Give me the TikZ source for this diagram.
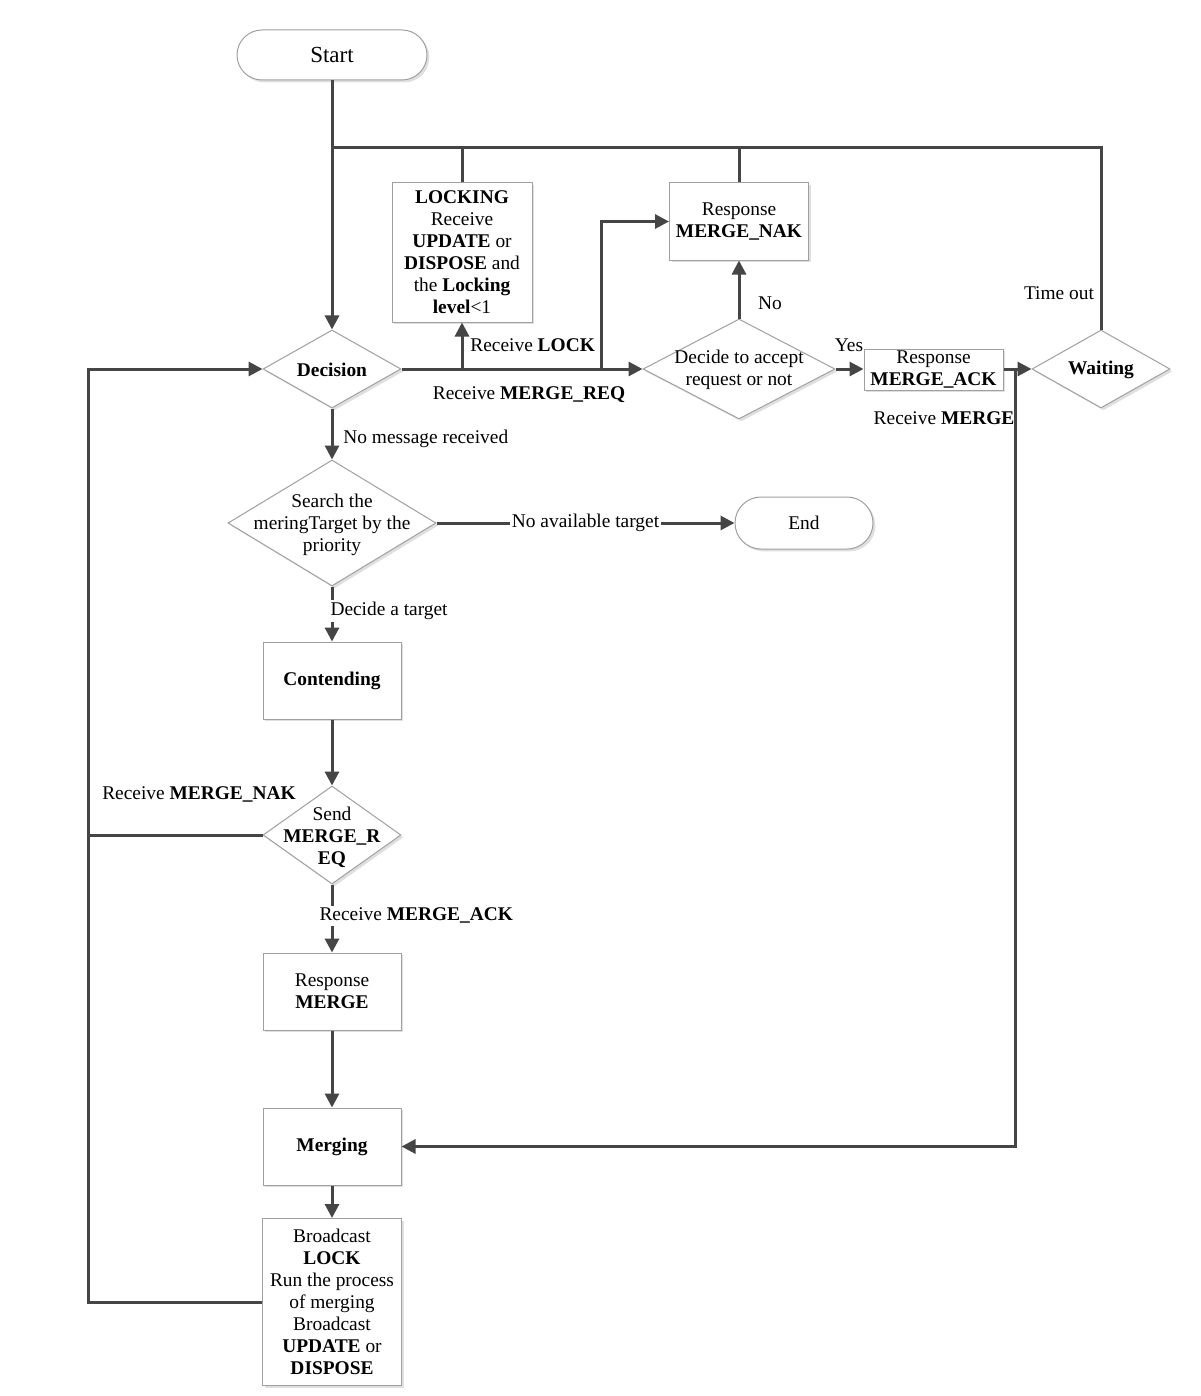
\documentclass[tikz,border=0pt]{standalone}
\usepackage{fontspec}
\setmainfont{Liberation Serif}
\usetikzlibrary{arrows.meta,shapes.geometric,shadows}
\definecolor{linec}{HTML}{454545}
\definecolor{boxc}{HTML}{A0A0A0}
\begin{document}
\begin{tikzpicture}[x=0.5pt,y=-0.5pt,
  font=\fontsize{9.7}{11}\selectfont,
  shad/.style={drop shadow={shadow xshift=1.2pt,shadow yshift=-1.2pt,opacity=0.25,fill=gray}},
  box/.style={draw=boxc,line width=0.5pt,fill=white,shad,align=center,inner sep=0pt},
  dia/.style={diamond,draw=boxc,line width=0.5pt,fill=white,shad,inner sep=0pt},
  term/.style={draw=boxc,line width=0.5pt,fill=white,shad,rounded corners=12.5pt,inner sep=0pt},
  txt/.style={align=center,inner sep=0pt},
  lbl/.style={inner sep=1pt},
  line/.style={draw=linec,line width=1.5pt},
  arr/.style={line,-{Triangle[length=7pt,width=7pt]}}]
\useasboundingbox (0,0) rectangle (1200,1396);
\fill[white] (0,0) rectangle (1200,1396);
% nodes
\node[term,minimum width=95pt,minimum height=25pt,font=\fontsize{11.5}{13}\selectfont] (start) at (332,55) {Start};
\node[box,minimum width=70pt,minimum height=69.5pt] (locking) at (462,252.5)
  {\textbf{LOCKING}\\Receive\\\textbf{UPDATE} or\\\textbf{DISPOSE} and\\the \textbf{Locking}\\\textbf{level}<1};
\node[box,minimum width=69.5pt,minimum height=38.5pt] (nak) at (739,221.5) {Response\\\textbf{MERGE\_NAK}};
\node[dia,minimum width=69pt,minimum height=39pt] (decision) at (332,369) {};
\node[txt] (decisiont) at (332,370) {\textbf{Decision}};
\node[dia,minimum width=96pt,minimum height=50pt] (decide) at (739,369) {};
\node[txt] (decidet) at (739,370) {Decide to accept\\request or not};
\node[box,minimum width=69.5pt,minimum height=20.5pt] (ack) at (933.5,369.5) {Response\\\textbf{MERGE\_ACK}};
\node[dia,minimum width=69pt,minimum height=39pt] (waiting) at (1101,369) {};
\node[txt] (waitingt) at (1101,370) {\textbf{Waiting}};
\node[dia,minimum width=104pt,minimum height=63pt] (search) at (332,523) {};
\node[txt] (searcht) at (332,525) {Search the\\meringTarget by the\\priority};
\node[term,minimum width=69pt,minimum height=26pt,rounded corners=13pt] (endn) at (804,523) {End};
\node[box,minimum width=69pt,minimum height=38.5pt] (cont) at (332,680.5) {\textbf{Contending}};
\node[dia,minimum width=69pt,minimum height=49pt] (send) at (332,835) {};
\node[txt] (sendt) at (332,837) {Send\\\textbf{MERGE\_R}\\\textbf{EQ}};
\node[box,minimum width=69pt,minimum height=38.5pt] (resp) at (332,991.5) {Response\\\textbf{MERGE}};
\node[box,minimum width=69pt,minimum height=38.5pt] (merging) at (332,1146.5) {\textbf{Merging}};
\node[box,minimum width=69.5pt,minimum height=83.5pt] (bcast) at (332,1302)
  {Broadcast\\\textbf{LOCK}\\Run the process\\of merging\\Broadcast\\\textbf{UPDATE} or\\\textbf{DISPOSE}};
% junction coordinates
\coordinate (topL) at (332,148);
\coordinate (jn) at (601,369);
\coordinate (jm) at (1015,369);
\coordinate (lx) at (88,1302);
% connectors
\draw[arr] (start) -- (decision);
\draw[line] (waiting.north) |- (topL);
\draw[line] (locking.north) -- (locking.north |- topL);
\draw[line] (nak.north) -- (nak.north |- topL);
\draw[arr] (decision.east) -- (decide.west);
\draw[arr] (decision.east -| locking.south) -- (locking.south);
\draw[arr] (jn) |- (nak.west);
\draw[arr] (decide.north) -- (nak.south);
\draw[arr] (decide.east) -- (decide.east -| ack.west);
\draw[arr] (ack.east |- waiting.west) -- (waiting.west);
\draw[arr] (jm) |- (merging.east);
\draw[arr] (decision.south) -- (search.north);
\draw[arr] (search.east) -- node[lbl,fill=white] (nat) {No available target} (endn.west);
\draw[arr] (search.south) -- node[lbl,fill=white,anchor=west,pos=0.45,xshift=-2.5pt] (dat) {Decide a target} (cont.north);
\draw[arr] (cont.south) -- (send.north);
\draw[arr] (send.south) -- node[lbl,fill=white,anchor=west,pos=0.46,xshift=-8pt] (rma) {Receive \textbf{MERGE\_ACK}} (resp.north);
\draw[arr] (resp.south) -- (merging.north);
\draw[arr] (merging.south) -- (bcast.north);
\draw[arr] (bcast.west) -- (lx) |- (decision.west);
\draw[line] (send.west) -- (send.west -| lx);
% labels
\node[lbl,anchor=west] (rlock) at (468,345) {Receive \textbf{LOCK}};
\node[lbl] (rreq) at (529,395) {Receive \textbf{MERGE\_REQ}};
\node[lbl] (no) at (770,303) {No};
\node[lbl] (yes) at (849,345) {Yes};
\node[lbl] (tout) at (1059,293) {Time out};
\node[lbl] (rmerge) at (944,418) {Receive \textbf{MERGE}};
\node[lbl,anchor=west] (nomsg) at (341,439) {No message received};
\node[lbl] (rnak) at (199,794) {Receive \textbf{MERGE\_NAK}};
\end{tikzpicture}
\end{document}
